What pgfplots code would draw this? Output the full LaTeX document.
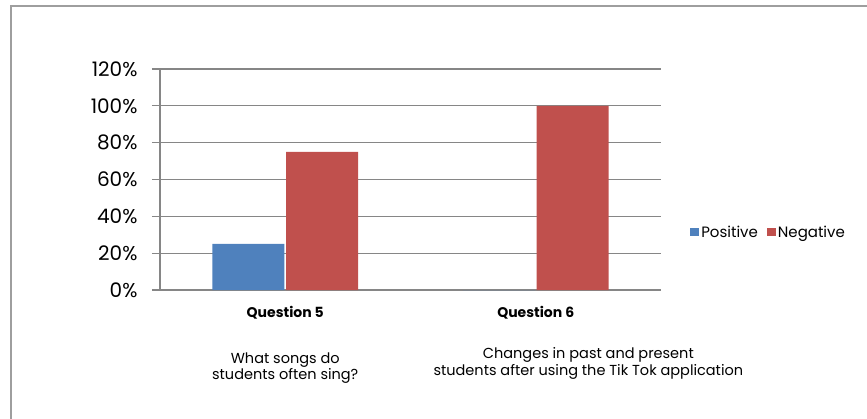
\documentclass[border=0pt]{standalone}
\usepackage{fontspec}
\setmainfont{Poppins}
\usepackage{pgfplots}
\pgfplotsset{compat=1.18}
\definecolor{cblue}{HTML}{4F81BD}
\definecolor{cred}{HTML}{C0504D}
\definecolor{cgrid}{HTML}{868686}
\begin{document}
\begin{tikzpicture}[x=1bp,y=1bp]
\useasboundingbox (-160bp,-129bp) rectangle (707bp,290bp);
\draw[cgrid!80, line width=1.5bp] (-149bp,-135bp) -- (-149bp,284bp) -- (715bp,284bp);
\begin{axis}[
  at={(0,0)}, anchor=south west,
  scale only axis, width=501bp, height=221bp,
  ybar, bar width=0.287,
  xmin=-0.5, xmax=1.5, ymin=0, ymax=120,
  xtick={0,1}, xticklabels={Question 5,Question 6},
  xtick style={draw=none},
  xticklabel style={font=\fontsize{14bp}{16bp}\selectfont\bfseries, anchor=base, yshift=-19bp},
  ytick={0,20,...,120},
  yticklabel={\pgfmathprintnumber{\tick}\%},
  /pgf/number format/assume math mode=true,
  yticklabel style={font=\fontsize{20bp}{22bp}\selectfont, xshift=-11bp},
  ymajorgrids, grid style={cgrid, line width=1.2bp},
  tick align=outside, major tick length=8bp,
  ytick style={cgrid, line width=1.2bp},
  axis x line*=bottom, axis y line*=left,
  axis line style={cgrid, line width=1.5bp, -},
  legend style={draw=none, fill=none, at={(rel axis cs:1.058,0.262)}, anchor=west, font=\fontsize{15bp}{17bp}\selectfont,
    legend columns=-1, inner sep=0pt, /tikz/every even column/.append style={column sep=7bp}},
  legend image code/.code={\fill[#1] (0bp,-4bp) rectangle (9bp,4bp);},
  clip=false,
]
\addplot[fill=cblue, draw=none] coordinates {(0,25) (1,0)};
\addplot[fill=cred, draw=none] coordinates {(0,75) (1,100)};
\legend{Positive,Negative}
\node[font=\fontsize{14.5bp}{16bp}\selectfont, anchor=base] at (axis cs:0,0) [yshift=-73bp] {What songs do};
\node[font=\fontsize{14.5bp}{16bp}\selectfont, anchor=base] at (axis cs:0,0) [yshift=-89bp] {students often sing?};
\node[font=\fontsize{14.5bp}{16bp}\selectfont, anchor=base] at (axis cs:1.21,0) [yshift=-68bp] {Changes in past and present};
\node[font=\fontsize{14.5bp}{16bp}\selectfont, anchor=base] at (axis cs:1.21,0) [yshift=-85bp] {students after using the Tik Tok application};
\end{axis}
\end{tikzpicture}
\end{document}
